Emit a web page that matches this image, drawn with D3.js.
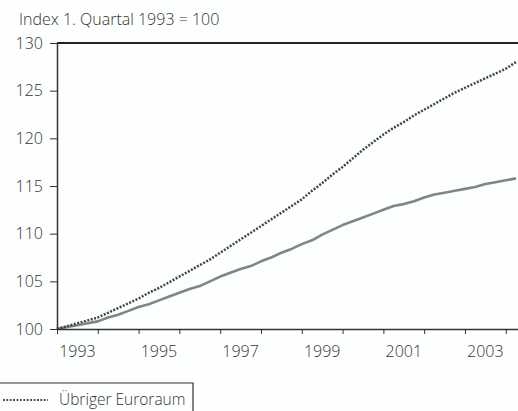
<!DOCTYPE html>
<html>
<head>
<meta charset="utf-8">
<script src="https://cdn.jsdelivr.net/npm/d3@7"></script>
<style>
    body { margin: 0; background: #fdfefe; }
    svg { display: block; }
    text { font-family: "Open Sans", "Noto Sans", sans-serif; font-weight: 300; fill: #333; }
</style>
</head>
<body>
<div id="chart"></div>
<script>
//Datos: 1. Quartal 1993 bis 2. Quartal 2004
const quartale = [];
for (let j = 1993; j <= 2004; j++) {
    for (let q = 0; q < 4; q++) {
        if (j == 2004 && q > 1) break;
        quartale.push(j + q / 4);
    }
}

const euroraum = [
    100.0, 100.3, 100.6, 100.9,
    101.2, 101.7, 102.2, 102.7,
    103.2, 103.8, 104.3, 104.9,
    105.5, 106.1, 106.7, 107.3,
    108.0, 108.7, 109.4, 110.1,
    110.8, 111.5, 112.2, 112.9,
    113.6, 114.5, 115.3, 116.2,
    117.0, 117.9, 118.8, 119.6,
    120.4, 121.1, 121.7, 122.4,
    123.0, 123.6, 124.2, 124.8,
    125.3, 125.8, 126.3, 126.8,
    127.3, 128.0
];

const deutschland = [
    100.0, 100.2, 100.4, 100.6,
    100.8, 101.2, 101.5, 101.9,
    102.3, 102.6, 103.0, 103.4,
    103.8, 104.2, 104.5, 105.0,
    105.5, 105.9, 106.3, 106.6,
    107.1, 107.5, 108.0, 108.4,
    108.9, 109.3, 109.9, 110.4,
    110.9, 111.3, 111.7, 112.1,
    112.5, 112.9, 113.1, 113.4,
    113.8, 114.1, 114.3, 114.5,
    114.7, 114.9, 115.2, 115.4,
    115.6, 115.8
];

const yTicks = [100, 105, 110, 115, 120, 125, 130];
const jahre = d3.range(1993, 2005);
const jahrLabels = [1993, 1995, 1997, 1999, 2001, 2003];

const COLOR_DOTTED = '#424545',
COLOR_SOLID = '#7f8686',
COLOR_AXIS = '#333';

let width = 518, height = 411;

let svg = d3.select('#chart')
    .append('svg')
        .attr('width', width)
        .attr('height', height);

let x = d3.scaleLinear()
    .domain([1993, 2004.3])
    .range([57, 518]);

let y = d3.scaleLinear()
    .domain([100, 130])
    .range([329, 43]);

//Titel
svg.append('text')
    .attr('x', 19)
    .attr('y', 25)
    .style('font-size', '16px')
    .text('Index 1. Quartal 1993 = 100');

//Linien
let line = d3.line()
    .x(function(d, i) { return x(quartale[i]); })
    .y(function(d) { return y(d); });

svg.append('path')
    .datum(deutschland)
    .attr('fill', 'none')
    .attr('stroke', COLOR_SOLID)
    .attr('stroke-width', 2.6)
    .attr('stroke-linejoin', 'round')
    .attr('d', line);

svg.append('path')
    .datum(euroraum)
    .attr('fill', 'none')
    .attr('stroke', COLOR_DOTTED)
    .attr('stroke-width', 2.5)
    .attr('stroke-dasharray', '2,1.5')
    .attr('d', line);

//Achsen
let yAxis = svg.append('g')
    .attr('transform', 'translate(' + x(1993) + ',0)')
    .call(d3.axisLeft(y).tickValues(yTicks).tickSize(7).tickPadding(7).tickSizeOuter(0));
yAxis.select('.domain').attr('stroke', COLOR_AXIS).attr('stroke-width', 1.5);
yAxis.selectAll('.tick line').attr('stroke', COLOR_AXIS);
yAxis.selectAll('.tick text')
    .attr('fill', '#333')
    .style('font-size', '16px')
    .style('font-weight', 300)
    .style('font-family', '"Open Sans", "Noto Sans", sans-serif');

let xAxis = svg.append('g')
    .attr('transform', 'translate(0,' + y(100) + ')')
    .call(d3.axisBottom(x).tickValues(jahre).tickSize(5).tickFormat('').tickSizeOuter(0));
xAxis.select('.domain').attr('stroke', COLOR_AXIS).attr('stroke-width', 1.5);
xAxis.selectAll('.tick line').attr('stroke', COLOR_AXIS);

svg.append('g')
    .selectAll('text')
    .data(jahrLabels)
    .enter()
    .append('text')
    .attr('x', function(d) { return x(d + 0.5); })
    .attr('y', y(100) + 28)
    .attr('text-anchor', 'middle')
    .style('font-size', '16px')
    .text(function(d) { return d; });

//Oberer Rahmen
svg.append('line')
    .attr('x1', x(1993))
    .attr('x2', width)
    .attr('y1', y(130))
    .attr('y2', y(130))
    .attr('stroke', '#222')
    .attr('stroke-width', 2);

//Legende
let legend = svg.append('g');
legend.append('path')
    .attr('d', 'M-2,383H193V413')
    .attr('fill', 'none')
    .attr('stroke', '#333')
    .attr('stroke-width', 1.2);
legend.append('line')
    .attr('x1', 3)
    .attr('x2', 48)
    .attr('y1', 400)
    .attr('y2', 400)
    .attr('stroke', COLOR_DOTTED)
    .attr('stroke-width', 2)
    .attr('stroke-dasharray', '1.8,1.6');
legend.append('text')
    .attr('x', 59)
    .attr('y', 405)
    .style('font-size', '15.5px')
    .text('Übriger Euroraum');
</script>
</body>
</html>
